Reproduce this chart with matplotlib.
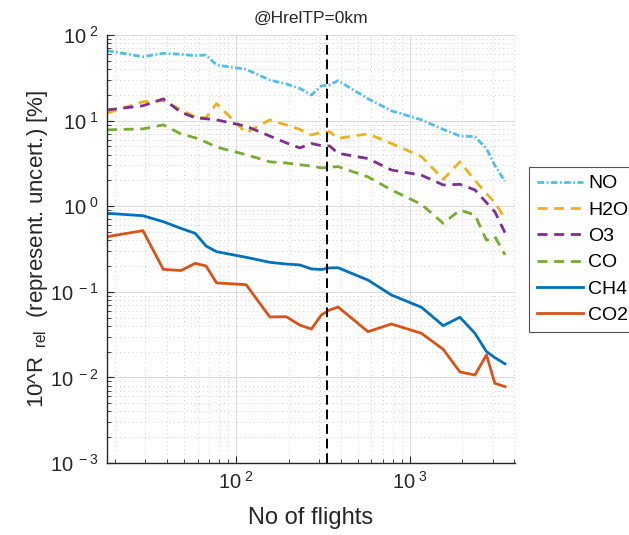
import math

import matplotlib
matplotlib.use("Agg")
import matplotlib.pyplot as plt
from matplotlib.ticker import LogLocator, FuncFormatter, NullFormatter

plt.rcParams["font.family"] = "Liberation Sans"
plt.rcParams["mathtext.fontset"] = "custom"
plt.rcParams["mathtext.rm"] = "Liberation Sans"
plt.rcParams["mathtext.it"] = "Liberation Sans:italic"
plt.rcParams["mathtext.default"] = "regular"

TEXT = "#262626"

# number of flights per bin (x) and relative representativeness uncertainty [%]
flights = [18, 29, 38, 48, 58, 67, 77, 114, 156, 194, 232, 271, 309, 345, 386,
           574, 783, 1167, 1556, 1942, 2370, 2763, 3087, 3530]
no = [65.6, 55.8, 61.1, 59.4, 57.4, 58.4, 44.6, 39.7, 29.8, 26.8, 23.8, 19.9, 25.4,
      26.1, 29.3, 18.0, 13.0, 10.2, 7.9, 6.6, 6.5, 4.7, 3.0, 1.95]
h2o = [12.2, 16.6, 17.1, 13.4, 11.0, 10.8, 15.8, 7.2, 10.2, 8.9, 7.9, 6.8, 7.3,
       7.4, 6.2, 7.0, 5.4, 3.8, 2.06, 3.3, 2.0, 1.4, 1.1, 0.72]
o3 = [13.3, 14.9, 17.9, 12.5, 10.8, 10.5, 10.2, 8.6, 6.6, 5.5, 4.8, 5.4, 5.1,
      5.05, 4.15, 3.6, 2.65, 2.3, 1.77, 1.8, 1.55, 1.1, 0.86, 0.49]
co = [7.8, 8.0, 8.9, 7.0, 6.3, 5.6, 4.9, 4.0, 3.3, 3.2, 3.05, 2.95, 2.8,
      2.85, 2.9, 2.2, 1.55, 1.05, 0.63, 0.90, 0.79, 0.40, 0.44, 0.27]
ch4 = [0.826, 0.774, 0.659, 0.551, 0.482, 0.343, 0.294, 0.253, 0.221, 0.211, 0.206,
       0.185, 0.182, 0.190, 0.191, 0.137, 0.0918, 0.0659, 0.0402, 0.0504, 0.0327,
       0.0200, 0.0170, 0.0144]
co2 = [0.440, 0.518, 0.183, 0.177, 0.215, 0.200, 0.127, 0.121, 0.0508, 0.0512, 0.0409,
       0.0367, 0.0536, 0.0613, 0.0664, 0.0342, 0.0421, 0.0327, 0.0213, 0.01157,
       0.01067, 0.0183, 0.00853, 0.0078]
flights_cut = 333

series = [
    ("NO", no, "#4DBEEE", (0, (2.4, 0.9, 0.6, 0.9))),
    ("H2O", h2o, "#EDB120", (0, (3.6, 2.4))),
    ("O3", o3, "#7E2F8E", (0, (3.6, 2.4))),
    ("CO", co, "#77AC30", (0, (3.6, 2.4))),
    ("CH4", ch4, "#0072BD", "-"),
    ("CO2", co2, "#D95319", "-"),
]

fig = plt.figure(figsize=(6.29, 5.35), dpi=100)
ax = fig.add_axes([0.170, 0.1346, 0.649, 0.800])

for name, vals, color, ls in series:
    ax.plot(flights, vals, color=color, linestyle=ls, linewidth=2, label=name)

ax.axvline(flights_cut, color="black", linestyle=(0, (5, 2.5)), linewidth=1.4)

ax.set_xscale("log")
ax.set_yscale("log")
ax.set_xlim(18, 4040)
ax.set_ylim(1e-3, 1e2)

ax.xaxis.set_major_locator(LogLocator(base=10, numticks=10))
ax.yaxis.set_major_locator(LogLocator(base=10, numticks=10))
ax.xaxis.set_minor_locator(LogLocator(base=10, subs=range(2, 10), numticks=20))
ax.yaxis.set_minor_locator(LogLocator(base=10, subs=range(2, 10), numticks=20))
fmt = FuncFormatter(lambda v, p: r"$10^{\ %d}$" % round(math.log10(v)))
ax.xaxis.set_major_formatter(fmt)
ax.yaxis.set_major_formatter(fmt)
ax.xaxis.set_minor_formatter(NullFormatter())
ax.yaxis.set_minor_formatter(NullFormatter())

ax.grid(True, which="major", color="#dcdcdc", linewidth=0.8, linestyle="-")
ax.grid(True, which="minor", color="#c0c0c0", linewidth=0.6, linestyle=(0, (1, 4)))
ax.set_axisbelow(True)

for side in ["top", "right"]:
    ax.spines[side].set_visible(False)
for side in ["left", "bottom"]:
    ax.spines[side].set_color(TEXT)
    ax.spines[side].set_linewidth(1.0)
ax.tick_params(which="both", direction="in", colors=TEXT, labelsize=14.5)
ax.tick_params(which="major", length=5, pad=6)
ax.tick_params(which="minor", length=3)

ax.set_title("@HrelTP=0km", color=TEXT, fontsize=12.5, pad=9)
ax.set_xlabel("No of flights", color=TEXT, fontsize=17, labelpad=10)
ax.set_ylabel(r"10^R$_{\ \ rel}$  (represent. uncert.) [%]", color=TEXT, fontsize=16,
              labelpad=0)

leg = ax.legend(loc="upper left", bbox_to_anchor=(0.841, 0.688),
                bbox_transform=fig.transFigure, fontsize=14, frameon=True,
                fancybox=False, edgecolor=TEXT, handlelength=2.4,
                handletextpad=0.25, labelspacing=0.45, borderpad=0.4,
                borderaxespad=0)
leg.get_frame().set_linewidth(0.8)

fig.savefig("out.png", dpi=100)
